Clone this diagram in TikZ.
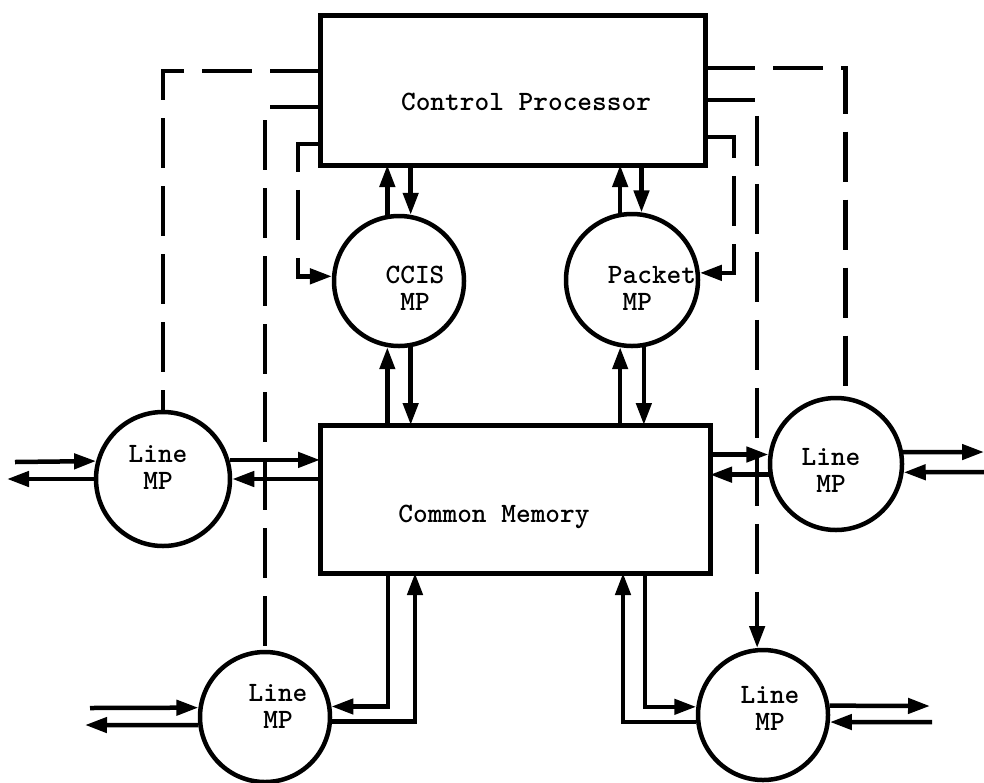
\documentclass[tikz,border=0pt]{standalone}
\usetikzlibrary{arrows.meta,calc}
\begin{document}
\begin{tikzpicture}[x=1pt,y=-1pt,
  box/.style={draw, line width=5pt, rectangle, inner sep=0pt, outer sep=0pt},
  mp/.style={draw, line width=4.5pt, circle, inner sep=0pt, minimum size=#1pt},
  lbl/.style={font=\fontsize{28}{27}\selectfont\ttfamily\bfseries, align=center, inner sep=0pt},
  tipA/.style={-{Triangle[length=22pt,width=15pt]}},
  arr/.style={line width=4.5pt, tipA},
  dsh/.style={line width=4.5pt, dash pattern=on 50pt off 18pt},
  dsharr/.style={dsh, tipA},
]
\useasboundingbox (0,0) rectangle (984,782);

% boxes
\node[box, minimum width=385pt, minimum height=150pt] (cp) at (512.5,90) {};
\node[box, minimum width=390pt, minimum height=148pt] (cm) at (515,499) {};
\node[lbl, anchor=base] (cpt) at (526,110) {Control Processor};
\node[lbl, anchor=base] (cmt) at (494,522) {Common Memory};

% processors
\node[mp=130] (ccis) at (399,281) {};
\node[mp=132] (pmp) at (632,280) {};
\node[mp=134] (lmp) at (163,479) {};
\node[mp=132] (rmp) at (836,464) {};
\node[mp=130] (blmp) at (265,717) {};
\node[mp=130] (brmp) at (763,715) {};

\node[lbl] (ccist) at (415,288) {CCIS\\MP};
\node[lbl, align=left] (pmpt) at (652,288) {Packet\\\phantom{P}MP};
\node[lbl] (lmpt) at (158,467) {Line\\MP};
\node[lbl] (rmpt) at (831,470) {Line\\MP};
\node[lbl] (blmpt) at (278,706) {Line\\MP};
\node[lbl] (brmpt) at (770,708) {Line\\MP};

% dashed control lines
\draw[dsh] (cp.west |- 0,71) -| (lmp);
\draw[dsh] (cp.west |- 0,107) -| (blmp);
\draw[dsharr] (cp.west |- 0,144) -| ($(ccis.176)+(-34,0)$) -- (ccis.176);
\draw[dsh] (cp.east |- 0,68) -| (rmp.82);
\draw[dsharr] (cp.east |- 0,100) -| (brmp.95);
\draw[dsharr] (cp.east |- 0,137) -| ($(pmp.6)+(34,0)$) -- (pmp.6);

% CCIS and Packet MP links
\draw[arr] (ccis.100) -- (ccis.100 |- cp.south);
\draw[arr] (ccis.80 |- cp.south) -- (ccis.80);
\draw[arr] (ccis.260 |- cm.north) -- (ccis.260);
\draw[arr] (ccis.280) -- (ccis.280 |- cm.north);
\draw[arr] (pmp.100) -- (pmp.100 |- cp.south);
\draw[arr] (pmp.82 |- cp.south) -- (pmp.82);
\draw[arr] (pmp.260 |- cm.north) -- (pmp.260);
\draw[arr] (pmp.280) -- (pmp.280 |- cm.north);

% left line MP
\coordinate (la1) at (15,462);
\coordinate (la2) at (7,479);
\draw[arr] (la1) -- (lmp.165);
\draw[arr] (lmp.west) -- (la2);
\draw[arr] (lmp.16) -- (lmp.16 -| cm.west);
\draw[arr] (lmp.east -| cm.west) -- (lmp.east);

% right line MP
\coordinate (ra1) at (984,452);
\coordinate (ra2) at (984,472);
\draw[arr] (rmp.172 -| cm.east) -- (rmp.172);
\draw[arr] (rmp.189) -- (rmp.189 -| cm.east);
\draw[arr] (rmp.10) -- (ra1);
\draw[arr] (ra2) -- (rmp.-7);

% bottom-left line MP
\coordinate (bla1) at (90,708);
\coordinate (bla2) at (85,725);
\draw[arr] (bla1) -- (blmp.172);
\draw[arr] (blmp.187) -- (bla2);
\draw[arr] ($(cm.south west)+(68,0)$) |- (blmp.9);
\draw[arr] (blmp.-4) -| ($(cm.south west)+(95,0)$);

% bottom-right line MP
\coordinate (bra1) at (930,706);
\coordinate (bra2) at (932,722);
\draw[arr] (brmp.8) -- (bra1);
\draw[arr] (bra2) -- (brmp.-6);
\draw[arr] ($(cm.south west)+(325,0)$) |- (brmp.173);
\draw[arr] (brmp.186) -| ($(cm.south west)+(303,0)$);
\end{tikzpicture}
\end{document}
